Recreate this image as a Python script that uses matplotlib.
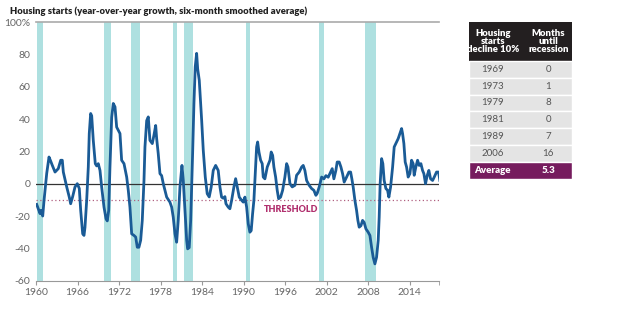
import matplotlib.pyplot as plt
from matplotlib.patches import Rectangle

# year-over-year growth in housing starts, six-month smoothed (%)
years = [1960.10, 1960.33, 1960.58, 1960.72, 1960.97, 1961.16, 1961.55, 1961.88, 1962.12, 1962.36,
         1962.75, 1963.22, 1963.57, 1963.80, 1963.95, 1964.44, 1964.81, 1965.01, 1965.30, 1965.64,
         1965.97, 1966.26, 1966.46, 1966.75, 1966.94, 1967.08, 1967.33, 1967.56, 1967.70, 1967.90,
         1968.05, 1968.28, 1968.57, 1968.77, 1969.00, 1969.25, 1969.49, 1969.83, 1970.12, 1970.30,
         1970.51, 1970.69, 1970.94, 1971.17, 1971.42, 1971.66, 1972.14, 1972.38, 1972.72, 1973.11,
         1973.34, 1973.58, 1973.83, 1974.16, 1974.41, 1974.64, 1974.88, 1975.13, 1975.36, 1975.61,
         1975.75, 1976.00, 1976.23, 1976.47, 1976.81, 1977.05, 1977.30, 1977.44, 1977.67, 1977.92,
         1978.16, 1978.40, 1978.89, 1979.36, 1979.61, 1979.84, 1980.09, 1980.33, 1980.56, 1980.81,
         1981.10, 1981.29, 1981.53, 1981.78, 1981.92, 1982.15, 1982.36, 1982.64, 1982.83, 1983.02,
         1983.22, 1983.37, 1983.60, 1983.95, 1984.18, 1984.47, 1984.75, 1985.04, 1985.33, 1985.62,
         1985.97, 1986.34, 1986.59, 1986.83, 1987.07, 1987.31, 1987.46, 1987.79, 1988.03, 1988.28,
         1988.61, 1988.86, 1989.09, 1989.38, 1989.73, 1989.96, 1990.20, 1990.45, 1990.68, 1990.92,
         1991.11, 1991.31, 1991.50, 1991.69, 1991.89, 1992.04, 1992.23, 1992.47, 1992.70, 1992.85,
         1993.09, 1993.43, 1993.82, 1994.00, 1994.21, 1994.39, 1994.64, 1994.87, 1995.07, 1995.36,
         1995.65, 1995.98, 1996.23, 1996.42, 1996.71, 1997.04, 1997.43, 1997.67, 1998.05, 1998.40,
         1998.63, 1998.87, 1999.12, 1999.49, 1999.84, 2000.17, 2000.46, 2000.65, 2000.94, 2001.29,
         2001.62, 2001.91, 2002.24, 2002.59, 2002.82, 2003.06, 2003.35, 2003.54, 2003.83, 2004.08,
         2004.32, 2004.55, 2004.90, 2005.23, 2005.48, 2005.66, 2005.85, 2006.10, 2006.34, 2006.53,
         2006.72, 2006.97, 2007.21, 2007.44, 2007.69, 2008.02, 2008.27, 2008.51, 2008.74, 2008.99,
         2009.23, 2009.47, 2009.61, 2009.75, 2009.96, 2010.14, 2010.33, 2010.58, 2010.82, 2011.01,
         2011.26, 2011.55, 2011.78, 2012.12, 2012.36, 2012.60, 2012.85, 2012.99, 2013.18, 2013.37,
         2013.57, 2013.80, 2014.05, 2014.29, 2014.52, 2014.67, 2014.91, 2015.16, 2015.39, 2015.64,
         2015.88, 2016.07, 2016.31, 2016.55, 2016.79, 2017.04, 2017.33, 2017.56, 2017.90, 2018.19,
         2018.38]
growth = [-12.8, -15.5, -18.5, -16.5, -20.0, -10.4, 6.4, 16.5, 14.0, 11.3,
          7.2, 9.3, 14.5, 14.5, 7.2, -2.0, -8.3, -12.4, -8.0, -2.0,
          0.0, -3.0, -16.5, -31.0, -32.0, -27.0, -10.0, 10.3, 31.0, 43.4,
          42.0, 26.8, 12.4, 11.0, 12.4, 8.2, -2.0, -14.5, -21.7, -23.0,
          -16.5, 10.3, 41.0, 49.6, 47.5, 35.0, 31.0, 14.5, 12.4, 4.1,
          -4.1, -14.5, -31.0, -32.0, -33.0, -39.3, -39.3, -35.0, -22.8, 2.0,
          22.7, 39.0, 41.3, 26.8, 24.8, 30.0, 36.0, 28.0, 18.6, 6.2,
          5.0, 0.0, -8.3, -11.4, -14.5, -20.7, -31.0, -36.2, -22.7, -2.0,
          11.3, 2.0, -16.5, -35.0, -40.3, -39.5, -22.7, 18.6, 49.6, 72.3,
          80.6, 71.0, 64.0, 39.0, 20.6, 4.1, -6.2, -8.2, -2.0, 8.2,
          11.3, 8.2, -2.0, -8.3, -9.0, -8.0, -12.4, -14.5, -15.5, -10.3,
          -2.0, 3.1, -2.0, -8.3, -10.3, -11.4, -8.3, -14.5, -24.8, -30.0,
          -29.0, -18.6, -10.3, 6.2, 22.7, 25.8, 19.6, 14.5, 12.4, 4.1,
          3.0, 10.3, 14.5, 19.6, 17.5, 10.3, 4.1, -4.1, -9.3, -8.3,
          -4.1, 4.1, 12.4, 10.3, 0.0, -2.0, -1.0, 5.2, 7.2, 10.3,
          11.3, 8.2, 2.0, -1.0, -3.0, -4.1, -7.2, -6.0, -2.0, 4.1,
          3.0, 5.0, 4.0, 7.2, 9.3, 3.0, 8.2, 13.4, 13.4, 10.3,
          6.2, 1.0, 4.1, 7.2, 7.2, 3.0, -2.0, -10.3, -16.5, -22.7,
          -26.9, -26.0, -22.7, -24.0, -27.9, -30.0, -32.0, -39.3, -45.5, -49.6,
          -45.5, -35.0, -20.7, 0.0, 15.5, 12.4, 2.0, -3.0, -4.1, -8.3,
          -2.0, 10.3, 22.7, 25.8, 27.9, 31.0, 34.1, 31.0, 24.8, 13.4,
          10.3, 4.1, 6.2, 14.5, 12.4, 5.2, 10.3, 14.5, 11.3, 12.4,
          8.2, 6.2, 0.0, 5.0, 8.2, 3.0, 2.0, 4.0, 7.2, 7.2,
          2.0]

# recession periods (start, end)
recessions = [(1960.1, 1961.0), (1969.8, 1970.8), (1973.8, 1975.0), (1979.8, 1980.4),
              (1981.4, 1982.7), (1990.3, 1991.0), (2000.9, 2001.7), (2007.6, 2009.2)]
threshold = -10

tab_header = ["Housing\nstarts\ndecline 10%", "Months\nuntil\nrecession"]
tab_years = ["1969", "1973", "1979", "1981", "1989", "2006"]
tab_months = ["0", "1", "8", "0", "7", "16"]
tab_avg = ["Average", "5.3"]

W, H = 640, 323
plt.rcParams['font.family'] = ['Lato', 'DejaVu Sans']
fig = plt.figure(figsize=(W / 100, H / 100), dpi=100)

ax = fig.add_axes([36 / W, 1 - 280.7 / H, (439.3 - 36) / W, (280.7 - 22) / H])
for s, e in recessions:
    ax.axvspan(s, e, color='#aee0e0', lw=0, zorder=0)
ax.axhline(0, color='#333333', lw=0.9, zorder=1)
ax.axhline(threshold, color='#b06080', lw=0.9, ls=(0, (1, 2)), zorder=1)
ax.plot(years, growth, color='#1a5b96', lw=2.0, zorder=3, solid_joinstyle='round')
ax.text(1992.9, -15.8, 'THRESHOLD', color='#b1306e', fontsize=6.5, fontweight='heavy',
        va='center', ha='left')

ax.set_xlim(1960, 2018.3)
ax.set_ylim(-60, 100)
ax.set_xticks(range(1960, 2015, 6))
ax.set_xticks([2018.3], minor=True)
ax.set_yticks(range(-60, 101, 20))
ax.set_yticklabels([str(v) for v in range(-60, 100, 20)] + ['100%'])
for side in ['left', 'right']:
    ax.spines[side].set_visible(False)
ax.spines['top'].set_color('#aaaaaa')
ax.spines['top'].set_linewidth(1.2)
ax.spines['bottom'].set_color('#999999')
ax.tick_params(axis='x', which='both', length=3, color='#999999', labelsize=7.5, labelcolor='#666666', pad=2)
ax.tick_params(axis='y', length=0, labelsize=7.5, labelcolor='#666666', pad=4)

fig.text(10 / W, 1 - 11 / H, 'Housing starts (year-over-year growth, six-month smoothed average)',
         fontsize=6.8, fontweight='heavy', color='#222222', va='center', ha='left')

# table on the right, drawn in pixel units
tx0, tx1, ty0, ty1 = 469.3, 572.3, 22.3, 179.0
tab = fig.add_axes([tx0 / W, 1 - ty1 / H, (tx1 - tx0) / W, (ty1 - ty0) / H])
tab.set_xlim(0, tx1 - tx0)
tab.set_ylim(ty1 - ty0, 0)
tab.axis('off')
tw = tx1 - tx0
hh = 38.4
rh = (ty1 - ty0 - hh) / (len(tab_years) + 1)
c1, c2 = 492.7 - tx0, 548.3 - tx0
tab.add_patch(Rectangle((0, 0), tw, hh, color='#231f20', lw=0))
tab.text(c1, hh / 2, tab_header[0], color='white', fontsize=6.8, fontweight='heavy',
         ha='center', va='center', linespacing=0.9)
tab.text(c2, hh / 2, tab_header[1], color='white', fontsize=6.8, fontweight='heavy',
         ha='center', va='center', linespacing=0.9)
for i, (yr, mo) in enumerate(zip(tab_years, tab_months)):
    y = hh + i * rh
    tab.add_patch(Rectangle((0, y), tw, rh, facecolor='#e4e4e4', edgecolor='white', lw=1))
    tab.text(c1, y + rh / 2, yr, color='#555555', fontsize=7, ha='center', va='center')
    tab.text(c2, y + rh / 2, mo, color='#555555', fontsize=7, ha='center', va='center')
y = hh + len(tab_years) * rh
tab.add_patch(Rectangle((0, y), tw, rh, facecolor='#761c5e', edgecolor='white', lw=1))
tab.text(c1, y + rh / 2, tab_avg[0], color='white', fontsize=7, fontweight='heavy',
         ha='center', va='center')
tab.text(c2, y + rh / 2, tab_avg[1], color='white', fontsize=7, fontweight='heavy',
         ha='center', va='center')

fig.savefig('out.png', dpi=100)
